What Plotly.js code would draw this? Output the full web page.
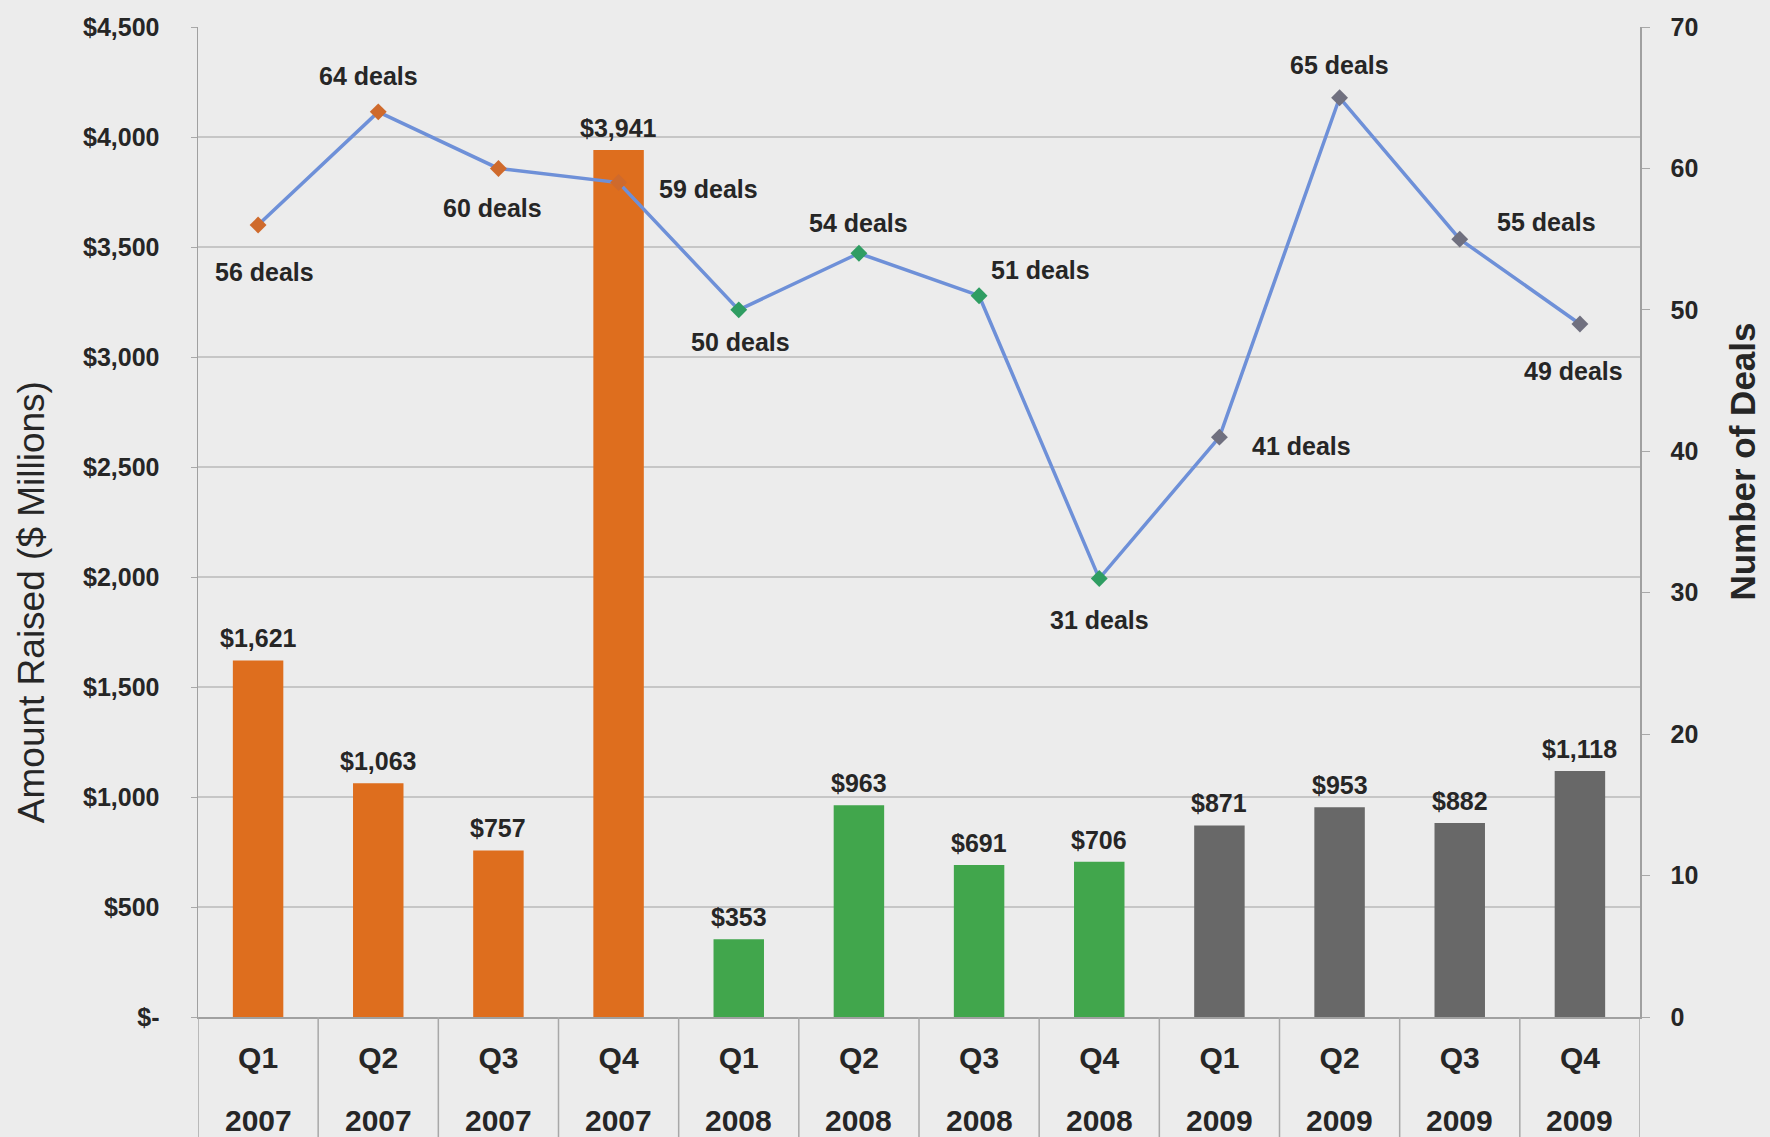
<!DOCTYPE html>
<html>
<head>
<meta charset="utf-8">
<script src="https://cdn.plot.ly/plotly-3.0.1.min.js"></script>
<style>
  html, body { margin: 0; padding: 0; background: #ececec; }
  #chart { width: 1770px; height: 1137px; }
</style>
</head>
<body>
<div id="chart"></div>
<script>
// Quarterly venture funding: amount raised (bars, left axis) and deal count (line, right axis)
const quarters = ['Q1', 'Q2', 'Q3', 'Q4', 'Q1', 'Q2', 'Q3', 'Q4', 'Q1', 'Q2', 'Q3', 'Q4'];
const years = ['2007', '2007', '2007', '2007', '2008', '2008', '2008', '2008', '2009', '2009', '2009', '2009'];
const amountRaised = [1621, 1063, 757, 3941, 353, 963, 691, 706, 871, 953, 882, 1118];
const dealCounts = [56, 64, 60, 59, 50, 54, 51, 31, 41, 65, 55, 49];

const amountTicks = [0, 500, 1000, 1500, 2000, 2500, 3000, 3500, 4000, 4500];
const amountTickText = ['$-', '$500', '$1,000', '$1,500', '$2,000', '$2,500', '$3,000', '$3,500', '$4,000', '$4,500'];
const dealTicks = [0, 10, 20, 30, 40, 50, 60, 70];

// Styling
const FONT = 'Liberation Sans, Arial, Helvetica, sans-serif';
const INK = '#262626';
const barColorByYear = { '2007': '#de6e1e', '2008': '#41a64c', '2009': '#686868' };
const markerColorByYear = { '2007': '#cf6a2c', '2008': '#2f9d62', '2009': '#70707f' };
// pixel offsets [x, y] of each deal label relative to its marker
const dealLabelShift = [
  [6, -47], [-10, 36], [-6, -40], [90, -6], [2, -32], [0, 30],
  [61, 26], [0, -41], [82, -9], [0, 33], [87, 17], [-6, -47]
];

const categories = quarters.map((q, i) => q + ' ' + years[i]);

const bars = {
  type: 'bar',
  x: categories,
  y: amountRaised,
  width: 0.42,
  marker: { color: years.map(y => barColorByYear[y]), line: { width: 0 } },
  hoverinfo: 'skip',
  showlegend: false
};

const line = {
  type: 'scatter',
  mode: 'lines+markers',
  x: categories,
  y: dealCounts,
  yaxis: 'y2',
  line: { color: '#6e90d8', width: 3.5 },
  marker: { symbol: 'diamond', size: 13, color: years.map(y => markerColorByYear[y]), line: { width: 0 } },
  hoverinfo: 'skip',
  showlegend: false
};

const annotations = [];

// value labels above the bars
categories.forEach((c, i) => {
  annotations.push({
    x: c, y: amountRaised[i], xref: 'x', yref: 'y',
    text: '$' + amountRaised[i].toLocaleString('en-US'),
    showarrow: false, xanchor: 'center', yanchor: 'bottom', yshift: 6,
    font: { family: FONT, size: 25, color: INK, weight: 'bold' }
  });
});

// deal-count labels near the line markers
categories.forEach((c, i) => {
  annotations.push({
    x: c, y: dealCounts[i], xref: 'x', yref: 'y2',
    text: dealCounts[i] + ' deals',
    showarrow: false, xanchor: 'center', yanchor: 'middle',
    xshift: dealLabelShift[i][0], yshift: dealLabelShift[i][1],
    font: { family: FONT, size: 25, color: INK, weight: 'bold' }
  });
});

// second row of category labels (year)
categories.forEach((c, i) => {
  annotations.push({
    x: c, y: 0, xref: 'x', yref: 'paper',
    text: years[i],
    showarrow: false, xanchor: 'center', yanchor: 'middle', yshift: -103,
    font: { family: FONT, size: 30, color: INK, weight: 'bold' }
  });
});

// axis titles
annotations.push({
  xref: 'paper', yref: 'paper', x: 0, y: 0.419, xshift: -167,
  text: 'Amount Raised ($ Millions)', textangle: -90, showarrow: false,
  xanchor: 'center', yanchor: 'middle',
  font: { family: FONT, size: 37, color: INK }
});
annotations.push({
  xref: 'paper', yref: 'paper', x: 1, y: 0.561, xshift: 103,
  text: 'Number of Deals', textangle: -90, showarrow: false,
  xanchor: 'center', yanchor: 'middle',
  font: { family: FONT, size: 35, color: INK, weight: 'bold' }
});

// category separators running below the axis
const shapes = [];
for (let i = 0; i <= categories.length; i++) {
  shapes.push({
    type: 'line', xref: 'x', yref: 'paper',
    x0: i - 0.5, x1: i - 0.5, y0: 0, y1: -0.2,
    line: { color: '#a8a8a8', width: 1.5 }
  });
}

const layout = {
  width: 1770,
  height: 1137,
  margin: { l: 198, r: 130, t: 27, b: 120 },
  paper_bgcolor: '#ececec',
  plot_bgcolor: '#ececec',
  font: { family: FONT, color: INK },
  xaxis: {
    type: 'category',
    range: [-0.5, 11.5],
    tickvals: categories,
    ticktext: quarters,
    tickfont: { family: FONT, size: 30, color: INK, weight: 'bold' },
    ticks: '',
    ticklabelstandoff: 13,
    showgrid: false,
    showline: true,
    linecolor: '#a0a0a0',
    linewidth: 1.5,
    zeroline: false,
    fixedrange: true
  },
  yaxis: {
    range: [0, 4500],
    tickvals: amountTicks,
    ticktext: amountTickText,
    tickfont: { family: FONT, size: 25, color: INK, weight: 'bold' },
    ticks: 'outside',
    ticklen: 6,
    tickcolor: '#a8a8a8',
    ticklabelstandoff: 26,
    showgrid: true,
    gridcolor: '#c6c6c6',
    gridwidth: 1.5,
    showline: true,
    linecolor: '#a0a0a0',
    linewidth: 1.5,
    zeroline: false,
    fixedrange: true
  },
  yaxis2: {
    overlaying: 'y',
    side: 'right',
    range: [0, 70],
    tickvals: dealTicks,
    tickfont: { family: FONT, size: 25, color: INK, weight: 'bold' },
    ticks: 'outside',
    ticklen: 8,
    tickcolor: '#a8a8a8',
    ticklabelstandoff: 16,
    showgrid: false,
    showline: true,
    linecolor: '#a0a0a0',
    linewidth: 1.5,
    zeroline: false,
    fixedrange: true
  },
  annotations: annotations,
  shapes: shapes,
  showlegend: false
};

Plotly.newPlot('chart', [bars, line], layout, { displayModeBar: false, staticPlot: true });
</script>
</body>
</html>
